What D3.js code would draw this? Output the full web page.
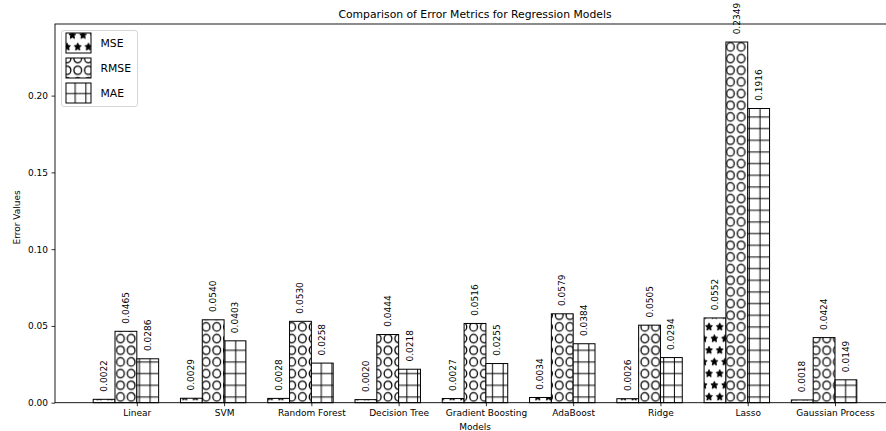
<!DOCTYPE html>
<html>
<head>
<meta charset="utf-8">
<script src="https://cdn.jsdelivr.net/npm/d3@7"></script>
<style>
  body { margin: 0; background: #fff; }
  svg { display: block; font-family: "DejaVu Sans", sans-serif; }
</style>
</head>
<body>
<svg id="chart" width="886" height="431"></svg>
<script>
// Regression models compared
const models = ["Linear", "SVM", "Random Forest", "Decision Tree", "Gradient Boosting",
                "AdaBoost", "Ridge", "Lasso", "Gaussian Process"];
// Error metrics per model
const mseValues  = [0.0022, 0.0029, 0.0028, 0.0020, 0.0027, 0.0034, 0.0026, 0.0552, 0.0018];
const rmseValues = [0.0465, 0.0540, 0.0530, 0.0444, 0.0516, 0.0579, 0.0505, 0.2349, 0.0424];
const maeValues  = [0.0286, 0.0403, 0.0258, 0.0218, 0.0255, 0.0384, 0.0294, 0.1916, 0.0149];
const metricNames = ["MSE", "RMSE", "MAE"];
const hatchKinds = ["star", "circle", "plus"];
const yTickValues = [0.00, 0.05, 0.10, 0.15, 0.20];

const series = [mseValues, rmseValues, maeValues];
const svg = d3.select("#chart");

// Plot frame
const plot = { left: 55, right: 895, top: 24, bottom: 402.7 };
const barW = 0.25;
const x = d3.scaleLinear()
  .domain([-0.9375, models.length - 1 + 0.6875])
  .range([plot.left, plot.right]);
const yMax = d3.max(series.flat()) * 1.05;
const y = d3.scaleLinear().domain([0, yMax]).range([plot.bottom, plot.top]);

// Hatch patterns: 6 x 6 cells per tile
const UX = 64.2, UY = 70;
const sx = UX / 6, sy = UY / 6;
const defs = svg.append("defs");

// Cell centres; staggered rows shift every other row by half a cell
function gridPositions(staggered) {
  const pts = [];
  for (let row = 0; row <= 6; row++) {
    const yy = row * sy;
    if (!staggered || row % 2 === 0) {
      for (let i = 0; i <= 6; i++) pts.push([i * sx, yy]);
    } else {
      for (let i = 0; i < 6; i++) pts.push([sx / 2 + i * sx, yy]);
    }
  }
  return pts;
}

function starPath(cx, cy, rx, ry) {
  const pts = [];
  for (let k = 0; k < 10; k++) {
    const a = Math.PI / 2 + k * Math.PI / 5;
    const f = k % 2 === 0 ? 1 : 0.5;
    pts.push([cx + f * rx * Math.cos(a), cy - f * ry * Math.sin(a)]);
  }
  return "M" + pts.map(p => p.join(",")).join("L") + "Z";
}

const patternOffsetX = { star: 2.8, circle: 2.8, plus: 0.3 };

hatchKinds.forEach(kind => {
  const p = defs.append("pattern")
    .attr("id", "hatch-" + kind)
    .attr("patternUnits", "userSpaceOnUse")
    .attr("x", patternOffsetX[kind]).attr("y", 0.3)
    .attr("width", UX).attr("height", UY);
  p.append("rect").attr("width", UX).attr("height", UY).attr("fill", "#fff");
  if (kind === "star") {
    gridPositions(true).forEach(([px, py]) => {
      p.append("path").attr("d", starPath(px, py, sx / 3, sy / 3))
        .attr("fill", "#000").attr("stroke", "#000").attr("stroke-width", 0.9);
    });
  } else if (kind === "circle") {
    gridPositions(false).forEach(([px, py]) => {
      p.append("ellipse").attr("cx", px).attr("cy", py)
        .attr("rx", sx * 0.36).attr("ry", sy * 0.36)
        .attr("fill", "none").attr("stroke", "#000").attr("stroke-width", 1.3);
    });
  } else {
    for (let i = 0; i <= 6; i++) {
      p.append("line").attr("x1", 0).attr("x2", UX).attr("y1", i * sy).attr("y2", i * sy)
        .attr("stroke", "#000").attr("stroke-width", 1);
      p.append("line").attr("y1", 0).attr("y2", UY).attr("x1", i * sx).attr("x2", i * sx)
        .attr("stroke", "#000").attr("stroke-width", 1);
    }
  }
});

// Bars
const bw = x(barW) - x(0);
series.forEach((vals, k) => {
  const g = svg.append("g").attr("class", "series-" + metricNames[k]);
  g.selectAll("rect").data(vals).join("rect")
    .attr("x", (d, i) => x(i + (k - 2) * barW))
    .attr("y", d => y(d))
    .attr("width", bw)
    .attr("height", d => y(0) - y(d))
    .attr("fill", "url(#hatch-" + hatchKinds[k] + ")")
    .attr("stroke", "#000")
    .attr("stroke-width", 1);
  // Value labels, rotated
  g.selectAll("text").data(vals).join("text")
    .attr("transform", (d, i) => `translate(${x(i + (k - 2) * barW) + bw / 2},${y(d + 0.005)}) rotate(-90)`)
    .attr("text-anchor", "start")
    .attr("dominant-baseline", "central")
    .attr("font-size", 9)
    .attr("fill", "#000")
    .text(d => d.toFixed(4));
});

// Axes frame
svg.append("rect")
  .attr("x", plot.left).attr("y", plot.top)
  .attr("width", plot.right - plot.left).attr("height", plot.bottom - plot.top)
  .attr("fill", "none").attr("stroke", "#000").attr("stroke-width", 0.9);

// Y axis
const yAxis = svg.append("g")
  .attr("transform", `translate(${plot.left},0)`)
  .call(d3.axisLeft(y).tickValues(yTickValues).tickFormat(d3.format(".2f")).tickSize(3.5).tickSizeOuter(0).tickPadding(3.5));
yAxis.select(".domain").remove();
yAxis.selectAll("text").attr("font-size", 9).attr("font-family", "DejaVu Sans").attr("fill", "#000");
yAxis.selectAll("line").attr("stroke", "#000").attr("stroke-width", 0.8);

// X axis
const xAxis = svg.append("g")
  .attr("transform", `translate(0,${plot.bottom})`)
  .call(d3.axisBottom(x).tickValues(d3.range(models.length)).tickFormat(i => models[i]).tickSize(3.5).tickSizeOuter(0).tickPadding(3.5));
xAxis.select(".domain").remove();
xAxis.selectAll("text").attr("font-size", 9).attr("font-family", "DejaVu Sans").attr("fill", "#000");
xAxis.selectAll("line").attr("stroke", "#000").attr("stroke-width", 0.8);

// Axis titles
svg.append("text")
  .attr("x", (plot.left + plot.right) / 2).attr("y", 430)
  .attr("text-anchor", "middle").attr("font-size", 9).text("Models");
svg.append("text")
  .attr("transform", `translate(17,${(plot.top + plot.bottom) / 2 + 4}) rotate(-90)`)
  .attr("text-anchor", "middle").attr("dominant-baseline", "central")
  .attr("font-size", 9).text("Error Values");
svg.append("text")
  .attr("x", (plot.left + plot.right) / 2).attr("y", 18)
  .attr("text-anchor", "middle").attr("font-size", 10.8).text("Comparison of Error Metrics for Regression Models");

// Legend
const legend = svg.append("g");
legend.append("rect")
  .attr("x", 61.5).attr("y", 30.5).attr("width", 76).attr("height", 76).attr("rx", 2.5)
  .attr("fill", "#fff").attr("fill-opacity", 0.8)
  .attr("stroke", "#ccc").attr("stroke-width", 0.8);
metricNames.forEach((name, k) => {
  const top = 33 + k * 25;
  legend.append("rect")
    .attr("x", 66).attr("y", top).attr("width", 25).attr("height", 20)
    .attr("fill", "url(#hatch-" + hatchKinds[k] + ")")
    .attr("stroke", "#000").attr("stroke-width", 1);
  legend.append("text")
    .attr("x", 100.5).attr("y", top + 10)
    .attr("dominant-baseline", "central")
    .attr("font-size", 10.8).text(name);
});
</script>
</body>
</html>
